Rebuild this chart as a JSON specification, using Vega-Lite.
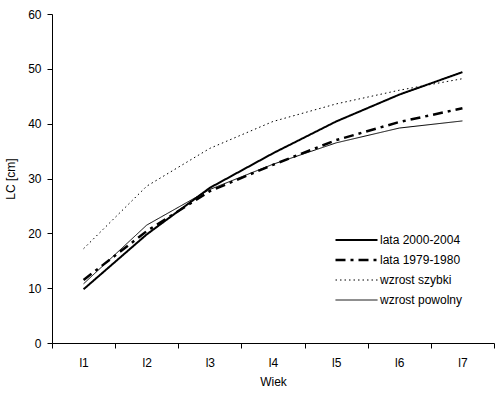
{
  "$schema": "https://vega.github.io/schema/vega-lite/v6.json",
  "width": 442,
  "height": 329,
  "autosize": {"type": "none"},
  "padding": {"left": 52, "top": 14, "right": 9, "bottom": 56},
  "background": "white",
  "config": {
    "view": {"stroke": null},
    "font": "Liberation Sans",
    "axis": {"grid": false, "domainColor": "black", "tickColor": "black", "labelColor": "black", "titleColor": "black", "labelFont": "Liberation Sans", "titleFont": "Liberation Sans", "labelFontSize": 12, "titleFontSize": 12, "titleFontWeight": "normal", "tickSize": 5}
  },
  "data": {"values": [
    {"wiek": "l1", "s": "lata 2000-2004", "v": 9.8},
    {"wiek": "l2", "s": "lata 2000-2004", "v": 19.8},
    {"wiek": "l3", "s": "lata 2000-2004", "v": 28.3},
    {"wiek": "l4", "s": "lata 2000-2004", "v": 34.6},
    {"wiek": "l5", "s": "lata 2000-2004", "v": 40.4},
    {"wiek": "l6", "s": "lata 2000-2004", "v": 45.3},
    {"wiek": "l7", "s": "lata 2000-2004", "v": 49.4},
    {"wiek": "l1", "s": "lata 1979-1980", "v": 11.5},
    {"wiek": "l2", "s": "lata 1979-1980", "v": 20.4},
    {"wiek": "l3", "s": "lata 1979-1980", "v": 27.7},
    {"wiek": "l4", "s": "lata 1979-1980", "v": 32.5},
    {"wiek": "l5", "s": "lata 1979-1980", "v": 37.0},
    {"wiek": "l6", "s": "lata 1979-1980", "v": 40.3},
    {"wiek": "l7", "s": "lata 1979-1980", "v": 42.8},
    {"wiek": "l1", "s": "wzrost szybki", "v": 17.2},
    {"wiek": "l2", "s": "wzrost szybki", "v": 28.6},
    {"wiek": "l3", "s": "wzrost szybki", "v": 35.5},
    {"wiek": "l4", "s": "wzrost szybki", "v": 40.4},
    {"wiek": "l5", "s": "wzrost szybki", "v": 43.6},
    {"wiek": "l6", "s": "wzrost szybki", "v": 46.1},
    {"wiek": "l7", "s": "wzrost szybki", "v": 48.2},
    {"wiek": "l1", "s": "wzrost powolny", "v": 10.8},
    {"wiek": "l2", "s": "wzrost powolny", "v": 21.5},
    {"wiek": "l3", "s": "wzrost powolny", "v": 28.0},
    {"wiek": "l4", "s": "wzrost powolny", "v": 32.6},
    {"wiek": "l5", "s": "wzrost powolny", "v": 36.5},
    {"wiek": "l6", "s": "wzrost powolny", "v": 39.2},
    {"wiek": "l7", "s": "wzrost powolny", "v": 40.5}
  ]},
  "mark": {"type": "line", "color": "black"},
  "encoding": {
    "x": {"field": "wiek", "type": "ordinal", "title": "Wiek",
      "scale": {"paddingInner": 0, "paddingOuter": 0},
      "axis": {"labelAngle": 0, "bandPosition": 0, "tickBand": "extent", "labelPadding": 9, "titlePadding": 8}},
    "y": {"field": "v", "type": "quantitative", "title": "LC [cm]",
      "scale": {"domain": [0, 60], "nice": false},
      "axis": {"values": [0, 10, 20, 30, 40, 50, 60], "labelPadding": 6, "titlePadding": 10}},
    "strokeDash": {"field": "s", "type": "nominal",
      "scale": {"type": "ordinal", "domain": ["lata 2000-2004", "lata 1979-1980", "wzrost szybki", "wzrost powolny"], "range": [[1, 0], [10, 5, 3, 5], [1.5, 3], [1, 0]]},
      "legend": {"title": null, "orient": "none", "legendX": 282, "legendY": 219, "symbolType": "stroke", "symbolSize": 1764, "symbolStrokeColor": "black", "clipHeight": 14, "rowPadding": 6, "labelFontSize": 12, "labelFont": "Liberation Sans", "labelColor": "black", "labelOffset": 1}},
    "strokeWidth": {"field": "s", "type": "nominal",
      "scale": {"type": "ordinal", "domain": ["lata 2000-2004", "lata 1979-1980", "wzrost szybki", "wzrost powolny"], "range": [2, 2.5, 1, 1]},
      "legend": {"title": null, "orient": "none", "legendX": 282, "legendY": 219, "symbolType": "stroke", "symbolSize": 1764, "symbolStrokeColor": "black", "clipHeight": 14, "rowPadding": 6, "labelFontSize": 12, "labelFont": "Liberation Sans", "labelColor": "black", "labelOffset": 1}}
  }
}
